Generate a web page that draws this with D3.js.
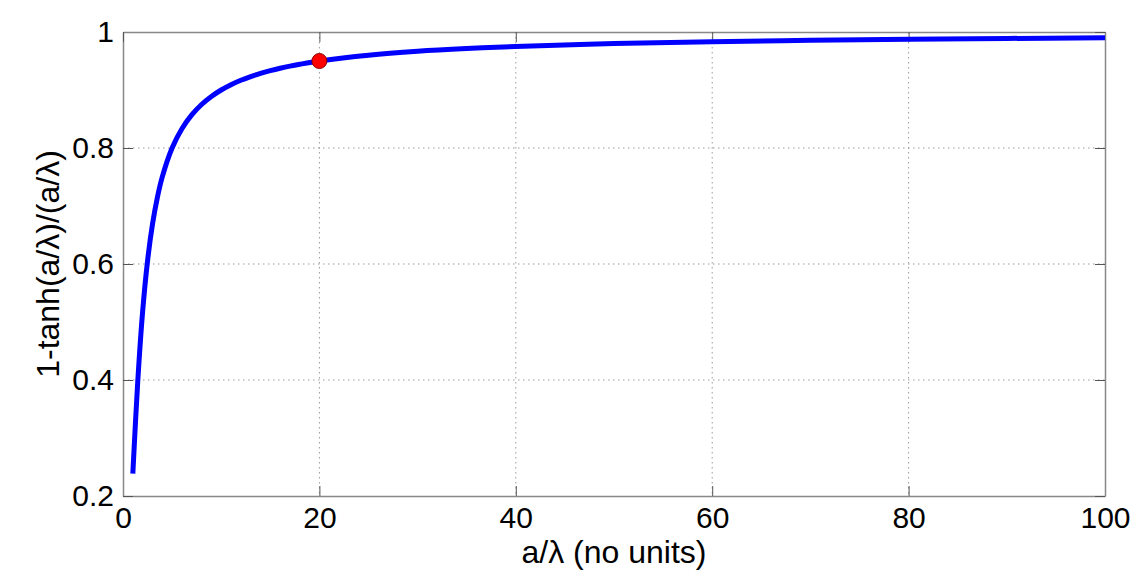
<!DOCTYPE html>
<html lang="en">
<head>
<meta charset="utf-8">
<title>1-tanh(a/lambda)/(a/lambda)</title>
<script src="https://cdn.jsdelivr.net/npm/d3@7"></script>
<style>
  body { margin: 0; background: #fff; font-family: "Liberation Sans", Arial, sans-serif; }
  .grid line { stroke: #9a9a9a; stroke-dasharray: 1.5 3.5; stroke-width: 1; }
  .tick text { font-size: 30px; fill: #000; }
</style>
</head>
<body>
<script>
  // values
  var xVals = [1, 1.5, 2, 2.5, 3, 3.5, 4, 5, 6, 7, 8, 9, 10, 11, 12, 13, 14, 15, 16, 17, 18, 20, 25, 30, 35, 40, 50, 60, 70, 80, 90, 100];
  var yVals = [0.2384, 0.3966, 0.518, 0.6054, 0.6683, 0.7148, 0.7502, 0.8, 0.8333, 0.8571, 0.875, 0.8889, 0.9, 0.9091, 0.9167, 0.9231, 0.9286, 0.9333, 0.9375, 0.9412, 0.9444, 0.95, 0.96, 0.9667, 0.9714, 0.975, 0.98, 0.9833, 0.9857, 0.9875, 0.9889, 0.99];
  var markX = [20];
  var markY = [0.95];
  var xTicks = [0, 20, 40, 60, 80, 100];
  var yTicks = [0.2, 0.4, 0.6, 0.8, 1];

  var width = 1146, height = 579;
  var mLeft = 123, mRight = 1105, mTop = 32, mBottom = 496;

  var svg = d3.select("body").append("svg")
    .attr("width", width)
    .attr("height", height);

  var x = d3.scaleLinear().domain([0, 100]).range([mLeft, mRight]);
  var y = d3.scaleLinear().domain([0.2, 1]).range([mBottom, mTop]);

  // grid
  var grid = svg.append("g").attr("class", "grid");
  grid.selectAll(".gx").data(xTicks.slice(1, -1)).enter().append("line")
    .attr("x1", d => x(d)).attr("x2", d => x(d))
    .attr("y1", mTop).attr("y2", mBottom);
  grid.selectAll(".gy").data(yTicks.slice(1, -1)).enter().append("line")
    .attr("y1", d => y(d)).attr("y2", d => y(d))
    .attr("x1", mLeft).attr("x2", mRight);

  // axes, ticks pointing inward
  var fmt = d3.format("");
  var xAxis = svg.append("g").attr("transform", "translate(0," + mBottom + ")")
    .call(d3.axisBottom(x).tickValues(xTicks).tickSizeInner(-10).tickSizeOuter(0).tickPadding(16).tickFormat(fmt));
  var yAxis = svg.append("g").attr("transform", "translate(" + mLeft + ",0)")
    .call(d3.axisLeft(y).tickValues(yTicks).tickSizeInner(-10).tickSizeOuter(0).tickPadding(9).tickFormat(fmt));
  var xTop = svg.append("g").attr("transform", "translate(0," + mTop + ")")
    .call(d3.axisTop(x).tickValues(xTicks).tickSizeInner(-10).tickSizeOuter(0).tickFormat(""));
  var yRight = svg.append("g").attr("transform", "translate(" + mRight + ",0)")
    .call(d3.axisRight(y).tickValues(yTicks).tickSizeInner(-10).tickSizeOuter(0).tickFormat(""));

  [xAxis, yAxis, xTop, yRight].forEach(function(g) {
    g.select(".domain").attr("stroke", "#888").attr("stroke-width", 1.5);
    g.selectAll(".tick line").attr("stroke", "#555");
    g.selectAll(".tick text").style("font-family", "'Liberation Sans', Arial, sans-serif");
  });
  xAxis.selectAll(".tick text").attr("y", 11);

  // curve
  var line = d3.line()
    .x((d, i) => x(xVals[i]))
    .y(d => y(d))
    .curve(d3.curveCatmullRom.alpha(0.5));

  svg.append("path")
    .datum(yVals)
    .attr("d", line)
    .attr("fill", "none")
    .attr("stroke", "#0000ff")
    .attr("stroke-width", 5);

  svg.selectAll(".mark").data(markX).enter().append("circle")
    .attr("cx", d => x(d))
    .attr("cy", (d, i) => y(markY[i]))
    .attr("r", 7.5)
    .attr("fill", "#ff0000")
    .attr("stroke", "#8b0000")
    .attr("stroke-width", 1);

  // labels
  svg.append("text")
    .attr("x", (mLeft + mRight) / 2)
    .attr("y", 563)
    .attr("text-anchor", "middle")
    .style("font-size", "32px")
    .text("a/λ (no units)");

  svg.append("text")
    .attr("transform", "translate(59," + ((mTop + mBottom) / 2) + ") rotate(-90)")
    .attr("text-anchor", "middle")
    .style("font-size", "32px")
    .text("1-tanh(a/λ)/(a/λ)");
</script>
</body>
</html>
